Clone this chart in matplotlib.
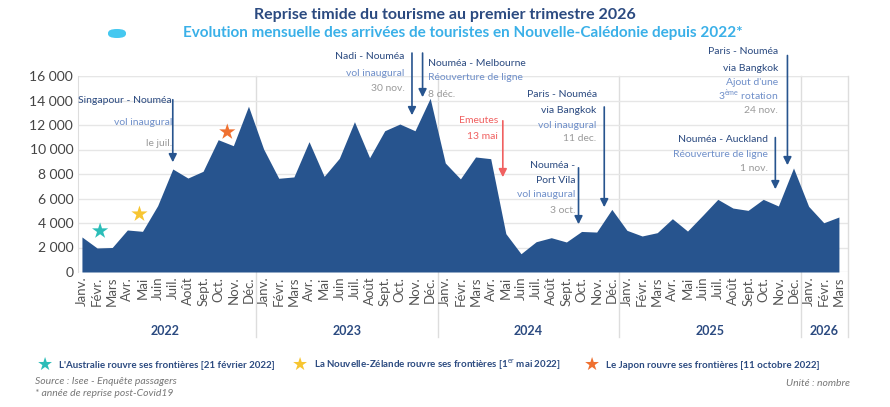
import matplotlib
matplotlib.use('Agg')
import matplotlib.pyplot as plt
import numpy as np

plt.rcParams['font.family'] = ['Lato', 'DejaVu Sans']
plt.rcParams['mathtext.fontset'] = 'custom'
plt.rcParams['mathtext.rm'] = 'Lato'

months = ['Janv.', 'Févr.', 'Mars', 'Avr.', 'Mai', 'Juin', 'Juil.', 'Août',
          'Sept.', 'Oct.', 'Nov.', 'Déc.']
years = ['2022', '2023', '2024', '2025', '2026']
month_counts = [12, 12, 12, 12, 3]

arrivals = [2860, 1960, 2000, 3430, 3320, 5410, 8410, 7670, 8220, 10800, 10310, 13530,
            10040, 7650, 7760, 10640, 7810, 9280, 12270, 9330, 11530, 12080, 11530, 14180,
            8900, 7600, 9390, 9250, 3130, 1490, 2470, 2800, 2450, 3310, 3260, 5110,
            3400, 2940, 3210, 4350, 3340, 4620, 5930, 5220, 5030, 5930, 5390, 8490,
            5360, 4020, 4490]

NAVY = '#27548e'
DARK = '#2b4a80'
LIGHT = '#6f8fc9'
GREY = '#9a9a9a'

fig = plt.figure(figsize=(8.9, 4.07), dpi=100)
ax = fig.add_axes([78 / 890, 1 - 272 / 407, 770 / 890, 196 / 407])

x = np.arange(len(arrivals))
ax.fill_between(x, arrivals, color=NAVY, lw=0, zorder=2)
ax.set_xlim(-0.26, 50.6)
ax.set_ylim(0, 16000)
ax.set_yticks(range(0, 16001, 2000))
ax.set_yticklabels([f'{v:,}'.replace(',', ' ') for v in range(0, 16001, 2000)],
                   fontsize=10, color='#444444')
ax.grid(axis='y', color='#e6e6e6', lw=1, zorder=0)
for s in ['top', 'right', 'bottom']:
    ax.spines[s].set_visible(False)
ax.spines['left'].set_color('#dddddd')
ax.tick_params(length=0)
ax.axhline(16000, color='#cfd8d8', lw=1.5, zorder=1)

tick_labels = []
for n in month_counts:
    tick_labels += months[:n]
ax.set_xticks(x)
ax.set_xticklabels(tick_labels, rotation=90, fontsize=9.5, color='#555555')

# year separators and labels
trans = ax.get_xaxis_transform()
start = 0
for yr, n in zip(years, month_counts):
    ax.text(start + (n - 1) / 2, -0.30, yr, transform=trans, ha='center', va='center',
            fontsize=9, fontweight='bold', color=DARK)
    if start > 0:
        ax.plot([start - 0.5, start - 0.5], [-0.33, 1], transform=trans, color='#dddddd',
                lw=1, clip_on=False, zorder=1)
    start += n
ax.plot([50.6, 50.6], [-0.33, 1], transform=trans, color='#dddddd', lw=1, clip_on=False)

# annotations: (x text, align, lines[(text, colour, y)], arrow x, arrow top, arrow tip, arrow colour)
notes = [
    (5.95, 'right', [('Singapour - Nouméa', DARK, 14040), ('vol inaugural', LIGHT, 12240),
                     ('le juil.', GREY, 10530)], 6.0, 14290, 8730, NAVY),
    (21.3, 'right', [('Nadi - Nouméa', DARK, 17630), ('vol inaugural', LIGHT, 16240),
                     ('30 nov.', GREY, 15020)], 21.8, 18100, 12570, NAVY),
    (22.85, 'left', [('Nouméa - Melbourne', DARK, 17060), ('Réouverture de ligne', LIGHT, 15840),
                     ('8 déc.', GREY, 14530)], 22.5, 18100, 14040, NAVY),
    (27.5, 'right', [('Emeutes', '#f06060', 12330), ('13 mai', '#f06060', 11100)],
     27.8, 12570, 7510, '#f06060'),
    (34.0, 'right', [('Paris - Nouméa', DARK, 14530), ('via Bangkok', DARK, 13220),
                     ('vol inaugural', LIGHT, 12000), ('11 dec.', GREY, 10860)],
     34.5, 13700, 5060, NAVY),
    (32.6, 'right', [('Nouméa -', DARK, 8730), ('Port Vila', DARK, 7510),
                     ('vol inaugural', LIGHT, 6290), ('3 oct.', GREY, 5060)],
     32.8, 8730, 3670, NAVY),
    (45.3, 'right', [('Nouméa - Auckland', DARK, 10780), ('Réouverture de ligne', LIGHT, 9630),
                     ('1 nov.', GREY, 8410)], 45.8, 11200, 6530, NAVY),
    (46.0, 'right', [('Paris - Nouméa', DARK, 18040), ('via Bangkok', DARK, 16650),
                     ("Ajout d'une", LIGHT, 15510), ('3$^{\\mathrm{ème}}$ rotation', LIGHT, 14450),
                     ('24 nov.', GREY, 13220)], 46.6, 17900, 8490, NAVY),
]
for xt, ha, lines, xa, ytop, ytip, col in notes:
    for txt, c, yv in lines:
        ax.text(xt, yv, txt, ha=ha, va='center', fontsize=7.5, color=c, clip_on=False, zorder=5)
    ax.annotate('', xy=(xa, ytip), xytext=(xa, ytop), annotation_clip=False,
                arrowprops=dict(arrowstyle='-|>', color=col, lw=1.2, mutation_scale=12), zorder=5)

# stars
star_x = [1.2, 3.8, 9.6]
star_y = [3350, 4730, 11430]
star_cols = ['#2bbdb8', '#f7c531', '#ef7030']
ax.scatter(star_x, star_y, marker='*', s=150, c=star_cols, zorder=6, lw=0)

# titles
fig.text(0.5, 1 - 15 / 407, 'Reprise timide du tourisme au premier trimestre 2026',
         ha='center', va='center', fontsize=11.5, fontweight='bold', color=DARK)
fig.text(0.52, 1 - 33 / 407,
         'Evolution mensuelle des arrivées de touristes en Nouvelle-Calédonie depuis 2022*',
         ha='center', va='center', fontsize=11, fontweight='bold', color='#3ab0e8')
fig.patches.append(matplotlib.patches.FancyBboxPatch(
    (108 / 890, 1 - 38 / 407), 18 / 890, 9 / 407, boxstyle='round,pad=0,rounding_size=0.01',
    transform=fig.transFigure, color='#45c8f0', lw=0))

# legend
legend_items = [(45, '#2bbdb8', "L'Australie rouvre ses frontières [21 février 2022]"),
                (300, '#f7c531', 'La Nouvelle-Zélande rouvre ses frontières [1$^{\\mathrm{er}}$ mai 2022]'),
                (592, '#ef7030', 'Le Japon rouvre ses frontières [11 octobre 2022]')]
for px, c, txt in legend_items:
    fig.text(px / 890, 1 - 365 / 407, '★', ha='center', va='center', fontsize=13, color=c,
             family='DejaVu Sans')
    fig.text((px + 14) / 890, 1 - 365 / 407, txt, ha='left', va='center', fontsize=7,
             fontweight='bold', color=DARK)

fig.text(35 / 890, 1 - 382 / 407, 'Source : Isee - Enquête passagers', fontsize=7.5,
         style='italic', color='#777777', va='center')
fig.text(35 / 890, 1 - 393 / 407, '* année de reprise post-Covid19', fontsize=7.5,
         style='italic', color='#777777', va='center')
fig.text(850 / 890, 1 - 384 / 407, 'Unité : nombre', fontsize=7.5, style='italic',
         color='#777777', va='center', ha='right')

fig.savefig('out.png', dpi=100)
